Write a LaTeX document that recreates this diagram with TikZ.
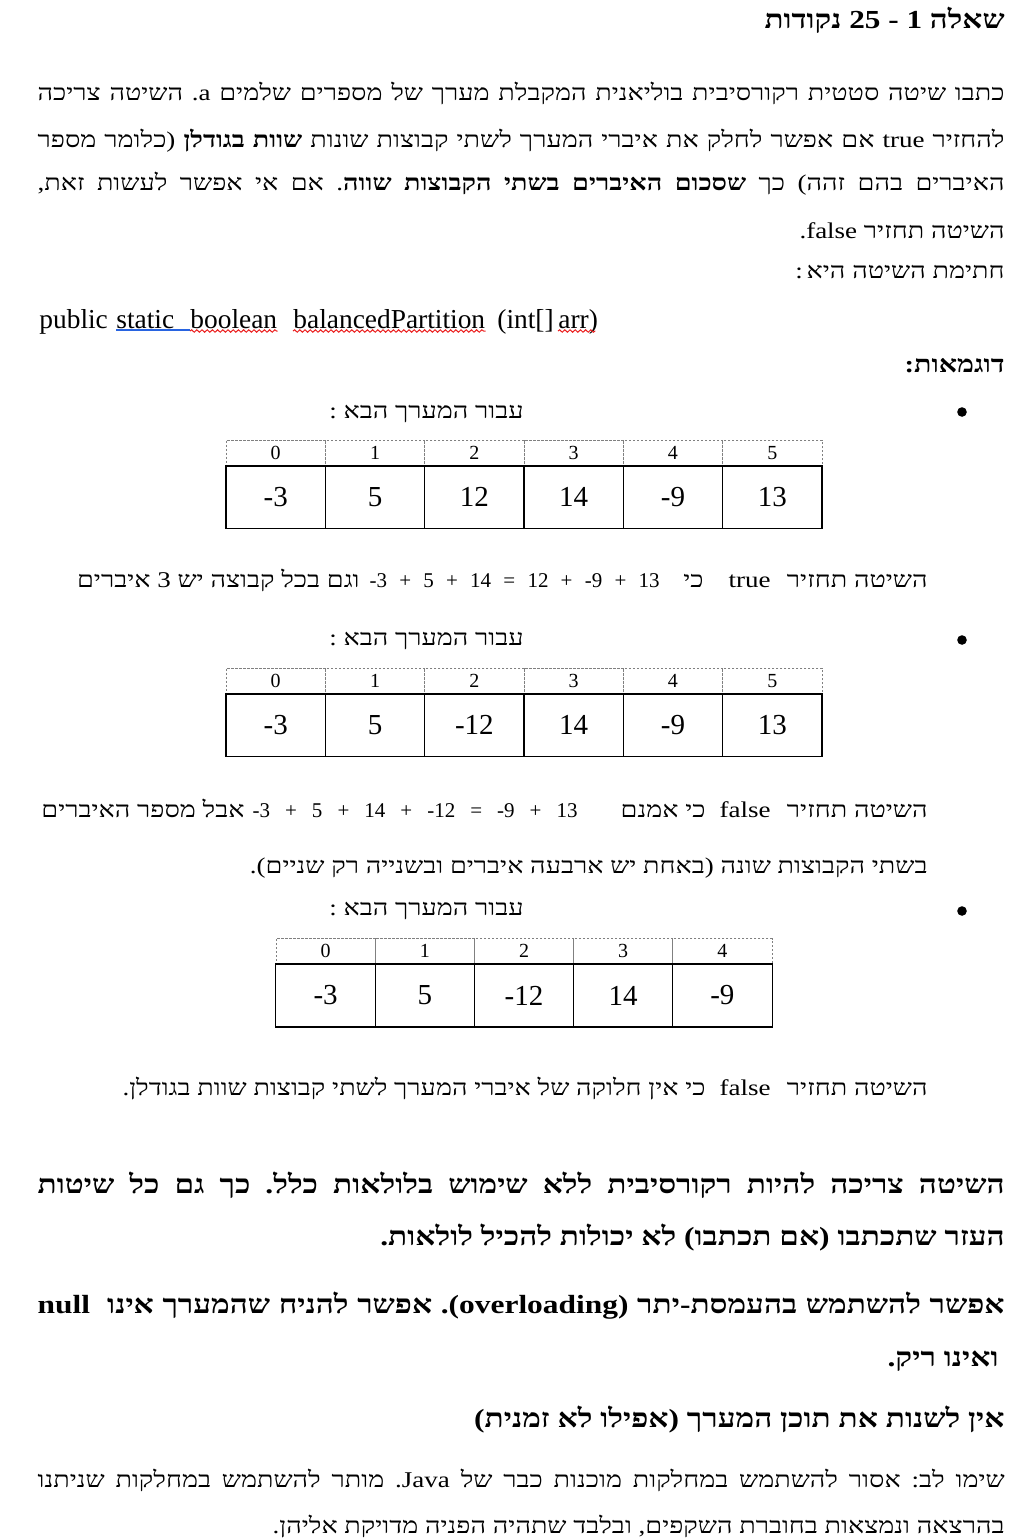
\documentclass[tikz,border=0pt]{standalone}
\usepackage{fontspec}
\setmainfont{Liberation Serif}
\newfontfamily\hebfont{Liberation Serif}[Script=Hebrew, FakeStretch=1.2]
\usetikzlibrary{positioning,calc,decorations.pathmorphing}
\TeXXeTstate=1
\frenchspacing
\newcommand\jline[2]{\hbox to #1{#2}}
\definecolor{squigred}{RGB}{235,30,30}
\definecolor{squigblue}{RGB}{40,100,225}

\tikzset{
  bodytxt/.style={inner sep=0pt, anchor=base east, font=\hebfont\fontsize{11.25}{13}\selectfont},
  boldtxt/.style={inner sep=0pt, anchor=base east, font=\hebfont\fontsize{13.1}{15}\selectfont\bfseries},
  headtxt/.style={inner sep=0pt, anchor=base east, font=\hebfont\fontsize{13}{15}\selectfont\bfseries},
  eqtxt/.style={inner sep=0pt, anchor=base east, font=\fontsize{10.5}{12}\selectfont},
  sigtxt/.style={inner sep=0pt, anchor=base west, font=\fontsize{13.7}{15}\selectfont},
  bulletdot/.style={circle, fill, inner sep=0pt, minimum size=4.8pt},
  valcell/.style={draw, line width=0.5pt, minimum width=49.65pt, minimum height=31pt, inner sep=0pt, font=\fontsize{14.5}{16}\selectfont},
  idxcell/.style={draw=gray, dash pattern=on 1.2pt off 0.8pt, line width=0.4pt, minimum width=49.65pt, minimum height=12.5pt, inner sep=0pt, font=\fontsize{10}{12}\selectfont},
  tableframe/.style={line width=0.9pt},
  wavy/.style={squigred, line width=0.5pt, decorate, decoration={snake, amplitude=0.6pt, segment length=2.6pt}},
}

\begin{document}
\begin{tikzpicture}[x=0.5pt, y=-0.5pt]
  \useasboundingbox (0,0) rectangle (1017,1538);

  % question heading and text
  \node[headtxt] (head) at (1005,28) {\beginR שאלה 1 - 25 נקודות\endR};
  \node[bodytxt] (l1) at (1005,100) {\jline{483.5pt}{\beginR כתבו שיטה סטטית רקורסיבית בוליאנית המקבלת מערך של מספרים שלמים a\kern0pt. השיטה צריכה\endR}};
  \node[bodytxt] (l2) at (1005,147) {\jline{483.5pt}{\beginR להחזיר true אם אפשר לחלק את איברי המערך לשתי קבוצות שונות \textbf{שוות בגודלן} (כלומר מספר\endR}};
  \node[bodytxt] (l3) at (1005,190) {\jline{483.5pt}{\beginR האיברים בהם זהה) כך \textbf{שסכום האיברים בשתי הקבוצות שווה}. אם אי אפשר לעשות זאת,\endR}};
  \node[bodytxt] (l4) at (1005,238) {\beginR השיטה תחזיר false\kern0pt.\endR};
  \node[bodytxt] (l5) at (1005,278) {\beginR חתימת השיטה היא\,:\endR};

  % signature
  \node[sigtxt] (pub) at (39,328) {public};
  \node[sigtxt] (stat) at (116,328) {static};
  \node[sigtxt] (bool) at (190,328) {boolean};
  \node[sigtxt] (bpart) at (293,328) {balancedPartition};
  \node[sigtxt] (args) at (497,328) {(int[]};
  \node[sigtxt] (arr) at (558,328) {arr)};
  \draw[squigblue, line width=0.6pt] ($(stat.base west)+(0,2)$) -- ($(bool.base west)+(0,2)$);
  \draw[wavy] ($(bool.base west)+(0,3)$) -- ($(bool.base east)+(0,3)$);
  \draw[wavy] ($(bpart.base west)+(0,3)$) -- ($(bpart.base east)+(0,3)$);
  \draw[wavy] ($(arr.base west)+(0,3)$) -- ($(arr.base east)+(-3,3)$);

  \node[headtxt, font=\hebfont\fontsize{11.9}{14}\selectfont\bfseries] (ex) at (1005,372) {\beginR דוגמאות:\endR};

  % example 1
  \node[bulletdot] (d1) at (962,412) {};
  \node[bodytxt] (t1) at (524,418) {\beginR עבור המערך הבא :\endR};
  \foreach \v [count=\i from 0] in {-3,5,12,14,-9,13}
    \node[valcell] (ta\i) at ({275.67+99.33*\i},497) {\v};
  \foreach \i in {0,...,5}
    \node[idxcell, above=0pt of ta\i] (ha\i) {\i};
  \draw[tableframe] (ta0.north west) rectangle (ta5.south east);

  \node[bodytxt] (e1a) at (928,587) {\beginR השיטה תחזיר\endR};
  \node[bodytxt] (e1b) at (771,587) {true};
  \node[bodytxt] (e1c) at (704,587) {\beginR כי\endR};
  \node[eqtxt] (e1d) at (660,587) {\hbox to 145pt{-3\hfill+\hfill5\hfill+\hfill14\hfill=\hfill12\hfill+\hfill-9\hfill+\hfill13}};
  \node[bodytxt] (e1e) at (360,587) {\beginR וגם בכל קבוצה יש 3 איברים\endR};

  % example 2
  \node[bulletdot] (d2) at (962,640) {};
  \node[bodytxt] (t2) at (524,645) {\beginR עבור המערך הבא :\endR};
  \foreach \v [count=\i from 0] in {-3,5,-12,14,-9,13}
    \node[valcell] (tb\i) at ({275.67+99.33*\i},725) {\v};
  \foreach \i in {0,...,5}
    \node[idxcell, above=0pt of tb\i] (hb\i) {\i};
  \draw[tableframe] (tb0.north west) rectangle (tb5.south east);

  \node[bodytxt] (e2a) at (928,817) {\beginR השיטה תחזיר\endR};
  \node[bodytxt] (e2b) at (771,817) {false};
  \node[bodytxt] (e2c) at (706,817) {\beginR כי אמנם\endR};
  \node[eqtxt] (e2d) at (578,817) {\hbox to 162.5pt{-3\hfill+\hfill5\hfill+\hfill14\hfill+\hfill-12\hfill=\hfill-9\hfill+\hfill13}};
  \node[bodytxt] (e2e) at (245,817) {\beginR אבל מספר האיברים\endR};
  \node[bodytxt] (e2f) at (928,873) {\beginR בשתי הקבוצות שונה (באחת יש ארבעה איברים ובשנייה רק שניים).\endR};

  % example 3
  \node[bulletdot] (d3) at (962,911) {};
  \node[bodytxt] (t3) at (524,915) {\beginR עבור המערך הבא :\endR};
  \foreach \v [count=\i from 0] in {-3,5,-12,14,-9}
    \node[valcell] (tc\i) at ({325.6+99.2*\i},995.5) {\v};
  \foreach \i in {0,...,4}
    \node[idxcell, above=0pt of tc\i] (hc\i) {\i};
  \draw[tableframe] (tc0.north west) rectangle (tc4.south east);

  \node[bodytxt] (e3a) at (928,1095) {\beginR השיטה תחזיר\endR};
  \node[bodytxt] (e3b) at (771,1095) {false};
  \node[bodytxt] (e3c) at (706,1095) {\beginR כי אין חלוקה של איברי המערך לשתי קבוצות שוות בגודלן.\endR};

  % rules
  \node[boldtxt] (r1) at (1005,1193) {\jline{483.5pt}{\beginR השיטה צריכה להיות רקורסיבית ללא שימוש בלולאות כלל. כך גם כל שיטות\endR}};
  \node[boldtxt] (r2) at (1005,1245) {\beginR העזר שתכתבו (אם תכתבו) לא יכולות להכיל לולאות.\endR};
  \node[boldtxt] (r3) at (1005,1313) {\jline{483.5pt}{\beginR אפשר להשתמש בהעמסת-יתר (overloading)\kern0pt. אפשר להניח שהמערך אינו\ \ null\endR}};
  \node[boldtxt] (r4) at (999,1366) {\beginR ואינו ריק.\endR};
  \node[boldtxt] (r5) at (1005,1427) {\beginR אין לשנות את תוכן המערך (אפילו לא זמנית)\endR};

  \node[bodytxt] (n1) at (1005,1487) {\jline{483.5pt}{\beginR שימו לב: אסור להשתמש במחלקות מוכנות כבר של Java\kern0pt. מותר להשתמש במחלקות שניתנו\endR}};
  \node[bodytxt] (n2) at (1005,1533) {\beginR בהרצאה ונמצאות בחוברת השקפים, ובלבד שתהיה הפניה מדויקת אליהן.\endR};
\end{tikzpicture}
\end{document}
